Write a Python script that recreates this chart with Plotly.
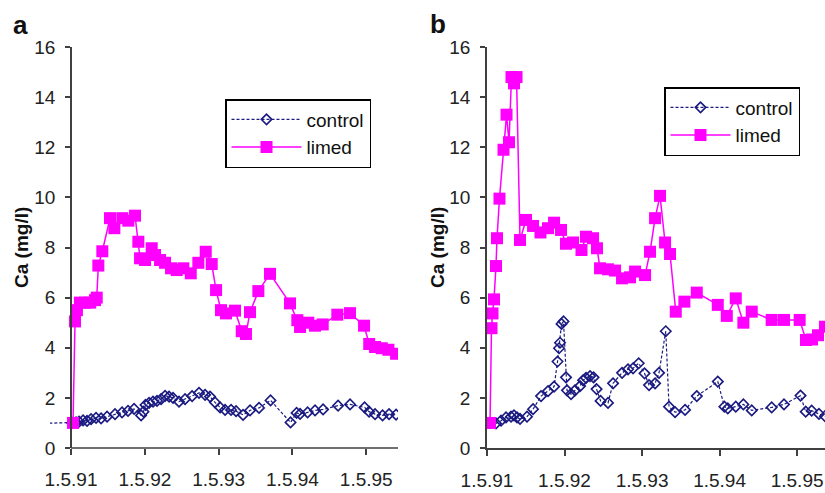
import plotly.graph_objects as go

# ---------------- data ----------------
tick_vals = [1991.33, 1992.33, 1993.33, 1994.33, 1995.33]
tick_text = ["1.5.91", "1.5.92", "1.5.93", "1.5.94", "1.5.95"]
y_ticks = [0, 2, 4, 6, 8, 10, 12, 14, 16]

# Panel a
a_control_x = [1990.90, 1991.344, 1991.398, 1991.438, 1991.493, 1991.547, 1991.601, 1991.669,
               1991.737, 1991.818, 1991.926, 1992.021, 1992.102, 1992.184, 1992.279, 1992.312,
               1992.339, 1992.387, 1992.441, 1992.495, 1992.55, 1992.604, 1992.658, 1992.712,
               1992.793, 1992.875, 1992.97, 1993.064, 1993.146, 1993.213, 1993.281, 1993.349,
               1993.417, 1993.498, 1993.566, 1993.661, 1993.755, 1993.877, 1994.033, 1994.304,
               1994.386, 1994.433, 1994.535, 1994.636, 1994.745, 1994.948, 1995.11, 1995.307,
               1995.368, 1995.449, 1995.551, 1995.639, 1995.734]
a_control_y = [0.98, 1.0, 1.02, 1.05, 1.1, 1.08, 1.15, 1.2,
               1.18, 1.25, 1.35, 1.42, 1.48, 1.56, 1.3, 1.45,
               1.72, 1.8, 1.85, 1.88, 1.95, 2.08, 2.05, 2.0,
               1.85, 1.95, 2.07, 2.2, 2.12, 2.05, 1.82, 1.62,
               1.52, 1.52, 1.47, 1.32, 1.5, 1.6, 1.9, 1.02,
               1.4, 1.36, 1.42, 1.5, 1.54, 1.69, 1.74, 1.62,
               1.45, 1.35, 1.3, 1.35, 1.33]

a_limed_x = [1991.357, 1991.384, 1991.41, 1991.45, 1991.52, 1991.59, 1991.655, 1991.678,
             1991.70, 1991.754, 1991.858, 1991.917, 1992.025, 1992.106, 1992.197, 1992.242,
             1992.265, 1992.333, 1992.423, 1992.468, 1992.536, 1992.604, 1992.685, 1992.762,
             1992.852, 1992.952, 1993.055, 1993.155, 1993.236, 1993.295, 1993.362, 1993.43,
             1993.552, 1993.643, 1993.70, 1993.755, 1993.868, 1994.026, 1994.297, 1994.396,
             1994.433, 1994.545, 1994.636, 1994.74, 1994.938, 1995.11, 1995.30, 1995.37,
             1995.449, 1995.54, 1995.63, 1995.734]
a_limed_y = [1.0, 5.05, 5.5, 5.8, 5.8, 5.8, 5.9, 6.0,
             7.28, 7.85, 9.17, 8.77, 9.17, 9.07, 9.27, 8.23,
             7.57, 7.5, 7.97, 7.7, 7.5, 7.39, 7.17, 7.1,
             7.17, 6.97, 7.39, 7.83, 7.34, 6.3, 5.5, 5.37,
             5.48, 4.66, 4.55, 5.42, 6.26, 6.95, 5.77, 5.1,
             4.83, 5.0, 4.88, 4.93, 5.32, 5.38, 4.88, 4.15,
             4.03, 3.98, 3.92, 3.76]

# Panel b
b_control_x = [1991.369, 1991.446, 1991.511, 1991.575, 1991.64, 1991.678, 1991.717, 1991.756,
               1991.846, 1991.924, 1992.027, 1992.117, 1992.195, 1992.24, 1992.259, 1992.272,
               1992.291, 1992.317, 1992.349, 1992.362, 1992.414, 1992.465, 1992.53, 1992.569,
               1992.607, 1992.659, 1992.704, 1992.743, 1992.795, 1992.891, 1992.956, 1993.072,
               1993.149, 1993.214, 1993.287, 1993.362, 1993.42, 1993.498, 1993.549, 1993.636,
               1993.678, 1993.756, 1993.885, 1994.036, 1994.307, 1994.392, 1994.436, 1994.539,
               1994.637, 1994.745, 1995.002, 1995.161, 1995.374, 1995.441, 1995.518, 1995.612,
               1995.69]
b_control_y = [1.0, 0.98, 1.09, 1.22, 1.25, 1.3, 1.22, 1.16,
               1.25, 1.55, 2.07, 2.27, 2.45, 3.45, 3.98, 4.2,
               4.95, 5.05, 2.82, 2.3, 2.15, 2.3, 2.47, 2.7,
               2.8, 2.87, 2.82, 2.35, 1.88, 1.8, 2.58, 3.0,
               3.14, 3.18, 3.38, 2.98, 2.51, 2.58, 3.0, 4.66,
               1.65, 1.43, 1.52, 2.07, 2.65, 1.65, 1.58, 1.65,
               1.74, 1.5, 1.62, 1.74, 2.09, 1.45, 1.49, 1.36,
               1.27]

b_limed_x = [1991.369, 1991.388, 1991.401, 1991.42, 1991.446, 1991.459, 1991.491, 1991.543,
             1991.582, 1991.614, 1991.646, 1991.678, 1991.711, 1991.756, 1991.833, 1991.924,
             1992.02, 1992.117, 1992.195, 1992.285, 1992.349, 1992.44, 1992.549, 1992.607,
             1992.698, 1992.749, 1992.788, 1992.891, 1992.982, 1993.072, 1993.175, 1993.24,
             1993.369, 1993.433, 1993.498, 1993.562, 1993.627, 1993.691, 1993.765, 1993.876,
             1994.036, 1994.307, 1994.423, 1994.539, 1994.637, 1994.745, 1995.002, 1995.161,
             1995.363, 1995.445, 1995.522, 1995.60, 1995.69]
b_limed_y = [1.0, 4.78, 5.37, 5.93, 7.26, 8.37, 9.95, 11.9,
             13.3, 12.2, 14.8, 14.55, 14.8, 8.3, 9.1, 8.86,
             8.6, 8.77, 8.99, 8.7, 8.15, 8.2, 7.9, 8.43,
             8.37, 7.97, 7.17, 7.13, 7.08, 6.77, 6.81, 7.04,
             6.9, 7.83, 9.17, 10.06, 8.2, 7.74, 5.44, 5.84,
             6.2, 5.71, 5.27, 5.97, 5.0, 5.44, 5.11, 5.11,
             5.11, 4.31, 4.33, 4.5, 4.84]

series_names = ["control", "limed"]

# ---------------- styling / layout ----------------
W, H = 825, 493
NAVY = "#1a1a80"
MAG = "#ff00ff"
AXC = "#404040"
FONT = "Liberation Sans, Arial, sans-serif"


def px_x(p):
    return p / W


def px_y(p):
    return (H - p) / H


fig = go.Figure()

ctrl_style = dict(mode="lines+markers",
                  line=dict(color=NAVY, width=1.2, dash="3px,2px"),
                  marker=dict(symbol="diamond-open", size=8, color=NAVY,
                              line=dict(color=NAVY, width=1.6)))
lim_style = dict(mode="lines+markers",
                 line=dict(color=MAG, width=1.5),
                 marker=dict(symbol="square", size=12, color=MAG,
                             line=dict(width=0)))

fig.add_trace(go.Scatter(x=a_control_x, y=a_control_y, name=series_names[0],
                         xaxis="x", yaxis="y", legend="legend", **ctrl_style))
fig.add_trace(go.Scatter(x=a_limed_x, y=a_limed_y, name=series_names[1],
                         xaxis="x", yaxis="y", legend="legend", **lim_style))
fig.add_trace(go.Scatter(x=b_control_x, y=b_control_y, name=series_names[0],
                         xaxis="x2", yaxis="y2", legend="legend2", **ctrl_style))
fig.add_trace(go.Scatter(x=b_limed_x, y=b_limed_y, name=series_names[1],
                         xaxis="x2", yaxis="y2", legend="legend2", **lim_style))

ydom = [px_y(448), px_y(47)]
tickfont = dict(family=FONT, size=19, color="#222")

xcommon = dict(tickmode="array", tickvals=tick_vals, ticktext=tick_text,
               ticks="outside", ticklen=6, tickwidth=1.5, tickcolor=AXC,
               showgrid=False, zeroline=False, tickfont=tickfont,
               ticklabelstandoff=8, automargin=False)
ycommon = dict(range=[0, 16], tickmode="array", tickvals=y_ticks,
               ticks="outside", ticklen=5, tickwidth=1.5, tickcolor=AXC,
               showline=True, linecolor=AXC, linewidth=1.5,
               showgrid=False, zeroline=False, tickfont=tickfont,
               domain=ydom, ticklabelstandoff=6, automargin=False)

# panel a: plot area starts slightly left of the y axis (line enters from left)
a_x0, a_x1 = 1991.045, 1995.76
fig.update_layout(
    template="none",
    xaxis=dict(domain=[px_x(50), px_x(398)], range=[a_x0, a_x1], anchor="y",
               showline=False, **xcommon),
    yaxis=dict(anchor="free", position=px_x(71), **ycommon),
    xaxis2=dict(domain=[px_x(487), 1.0], range=[1991.33, 1995.69], anchor="y2",
                showline=True, linecolor=AXC, linewidth=1.5, **xcommon),
    yaxis2=dict(anchor="x2", **ycommon),
)

# x axis line for panel a (starting at the y axis)
fig.add_shape(type="line", xref="paper", yref="paper",
              x0=px_x(71), x1=px_x(398), y0=px_y(448), y1=px_y(448),
              line=dict(color=AXC, width=1.5))

legfont = dict(family=FONT, size=19, color="#111")
fig.update_layout(
    legend=dict(x=px_x(225), y=px_y(99), xanchor="left", yanchor="top",
                bgcolor="white", bordercolor="black", borderwidth=1.5,
                font=legfont, tracegroupgap=0, itemwidth=70),
    legend2=dict(x=px_x(664), y=px_y(87), xanchor="left", yanchor="top",
                 bgcolor="white", bordercolor="black", borderwidth=1.5,
                 font=legfont, tracegroupgap=0, itemwidth=60),
)

ann = [
    dict(text="<b>a</b>", x=px_x(20), y=px_y(25)),
    dict(text="<b>b</b>", x=px_x(438), y=px_y(24)),
]
for a in ann:
    fig.add_annotation(xref="paper", yref="paper", showarrow=False,
                       xanchor="center", yanchor="middle",
                       font=dict(family=FONT, size=26, color="#111"), **a)
for xp in (21, 437):
    fig.add_annotation(text="<b>Ca (mg/l)</b>", xref="paper", yref="paper",
                       x=px_x(xp), y=px_y(248), showarrow=False, textangle=-90,
                       xanchor="center", yanchor="middle",
                       font=dict(family=FONT, size=19, color="#111"))

fig.update_layout(width=W, height=H, margin=dict(l=0, r=0, t=0, b=0, pad=0),
                  paper_bgcolor="white", plot_bgcolor="white",
                  font=dict(family=FONT), showlegend=True)

fig.write_html("out.html", config={"displayModeBar": False},
               post_script="document.body.style.margin='0';"
                           "document.body.style.overflow='hidden';")
